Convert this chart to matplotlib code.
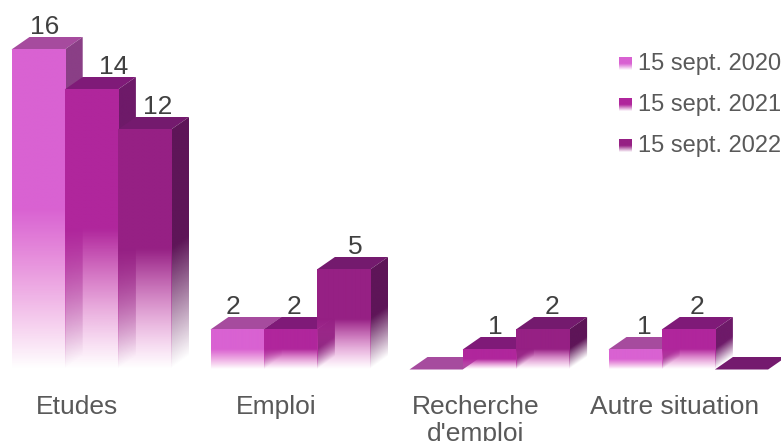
import numpy as np
import matplotlib
matplotlib.use('Agg')
import matplotlib.pyplot as plt
from matplotlib.colors import to_rgb
from matplotlib.patches import Polygon

plt.rcParams['font.family'] = ['Liberation Sans', 'DejaVu Sans']

categories = ['Etudes', 'Emploi', "Recherche\nd'emploi", 'Autre situation']
series_names = ['15 sept. 2020', '15 sept. 2021', '15 sept. 2022']
v2020 = [16, 2, 0, 1]
v2021 = [14, 2, 1, 2]
v2022 = [12, 5, 2, 0]
values = [v2020, v2021, v2022]

# front, top, side
colors = [('#d962d2', '#a64b9e', '#8a3f86'),
          ('#b0269c', '#7f1a78', '#6e1a69'),
          ('#962084', '#741a6e', '#5e1558')]
tail_color = '#e050c0'

# sideways nudges of the value labels in px (the source is irregular)
label_nudge = [[7, 22, 13], [-4, 4, 12], [0, 6, 9], [9, 9, 0]]

W, H = 781, 441
group_px = 199.0
bar_px = 53.2
first_px = 11.5
base_px = 369.5
unit_px = 20.0
depth_x = 18.0 / group_px
depth_y = 12.5 / unit_px
bar_w = bar_px / group_px


def x_of(px):
    return (px - first_px) / group_px


def y_of(py):
    return (base_px - py) / unit_px


fig = plt.figure(figsize=(W / 100, H / 100), dpi=100)
ax = fig.add_axes([0, 0, 1, 1])


def fade(color, xa, xb, ya, yb, alpha_fn, clip=None, tail=None):
    # draws a colour with a varying alpha as an image in data coordinates
    nx, ny = 40, 200
    u = np.linspace(0, 1, nx)
    yy = np.linspace(yb, ya, ny)
    al = alpha_fn(u[None, :], yy[:, None])
    img = np.zeros((ny, nx, 4))
    img[..., :3] = to_rgb(color)
    if tail is not None:
        # the colour turns pinker while it fades out
        mix = (1 - al)[..., None]
        img[..., :3] = img[..., :3] * (1 - mix) + np.array(to_rgb(tail)) * mix
    img[..., 3] = al
    im = ax.imshow(img, extent=[xa, xb, ya, yb], aspect='auto',
                   interpolation='bilinear', zorder=2)
    if clip is not None:
        patch = Polygon(clip, transform=ax.transData, fc='none', ec='none')
        ax.add_patch(patch)
        im.set_clip_path(patch)


def bar3d(x, v, front, top, side):
    ax.add_patch(Polygon([(x, v), (x + bar_w, v),
                          (x + bar_w + depth_x, v + depth_y),
                          (x + depth_x, v + depth_y)],
                         fc=top, ec='none', zorder=2))
    if v <= 0:
        return
    # side face, fades along its slanted bottom edge
    corners = [(x + bar_w, 0), (x + bar_w + depth_x, depth_y),
               (x + bar_w + depth_x, v + depth_y), (x + bar_w, v)]

    def side_alpha(u, y):
        return np.clip((y - u * depth_y) / (0.5 * v), 0, 1)
    fade(side, x + bar_w, x + bar_w + depth_x, 0, v + depth_y, side_alpha, corners)

    def front_alpha(u, y):
        return np.clip(y / (0.5 * v), 0, 1) * np.ones_like(u)
    fade(front, x, x + bar_w, 0, v, front_alpha, tail=tail_color)


for i in range(len(categories)):
    for j in range(3):
        x = i + j * bar_w
        v = values[j][i]
        bar3d(x, v, colors[j][0], colors[j][1], colors[j][2])
        if v > 0:
            ax.annotate(str(v), (x + bar_w / 2, v + depth_y),
                        xytext=(label_nudge[i][j] * 0.72, -1.5),
                        textcoords='offset points', ha='center', va='bottom',
                        fontsize=19, color='#404040', zorder=5)
    ax.text(i + 1.5 * bar_w - 14 / group_px, y_of(395), categories[i],
            ha='center', va='top', fontsize=19, color='#595959',
            linespacing=1.15)

# legend
for j, name in enumerate(series_names):
    cy = 63.5 + 41 * j
    top_y, bot_y = y_of(cy - 6.5), y_of(cy + 6.5)

    def swatch_alpha(u, y, top_y=top_y, bot_y=bot_y):
        return np.clip((y - bot_y) / (0.5 * (top_y - bot_y)), 0, 1) * np.ones_like(u)
    fade(colors[j][0], x_of(619), x_of(632), bot_y, top_y, swatch_alpha)
    ax.text(x_of(638), y_of(cy + 0.5), name, ha='left', va='center',
            fontsize=17, color='#595959')

ax.set_xlim(x_of(0), x_of(W))
ax.set_ylim(y_of(H), y_of(0))
ax.axis('off')

fig.savefig('out.png', dpi=100)
